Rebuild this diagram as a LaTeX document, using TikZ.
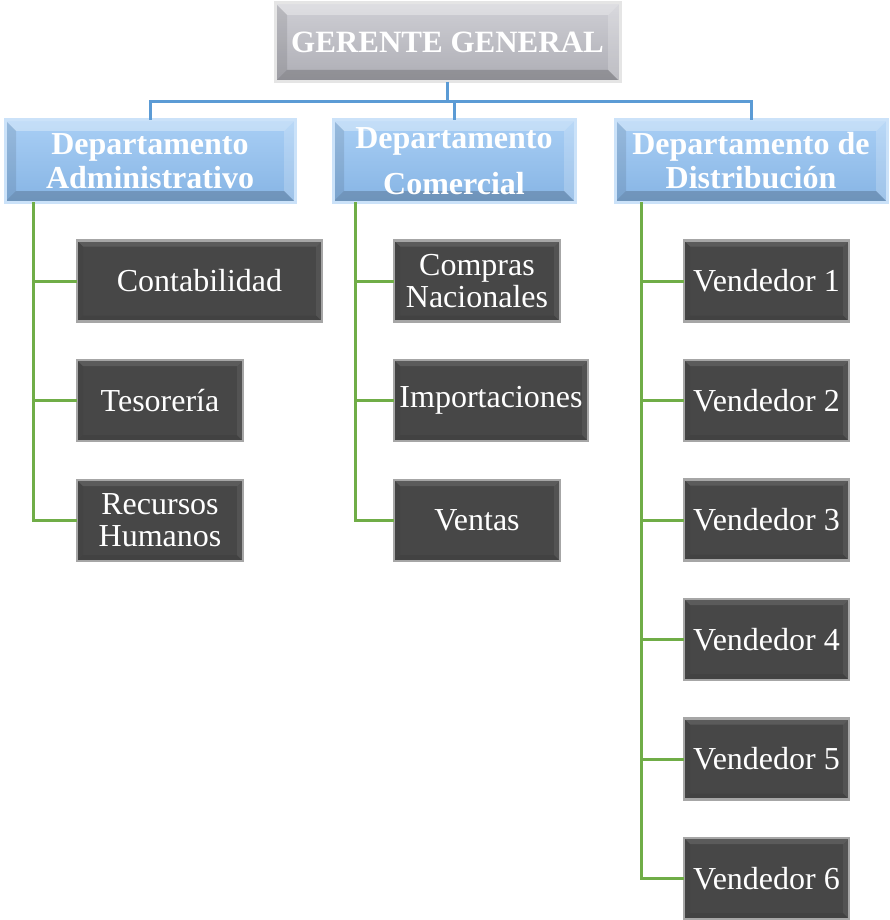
\documentclass[tikz,border=0pt]{standalone}
\usepackage{fontspec}
\setmainfont{Liberation Serif}
\usetikzlibrary{calc,positioning}

\definecolor{azulcon}{HTML}{5B9BD5}
\definecolor{verdecon}{HTML}{70AD47}
\definecolor{grisarriba}{HTML}{CFCFD5}
\definecolor{grisabajo}{HTML}{ADADB4}
\definecolor{azularriba}{HTML}{A9CFF5}
\definecolor{azulabajo}{HTML}{86B4E4}
\definecolor{oscuro}{HTML}{474747}

\tikzset{
  bisel/.style 2 args={path picture={
      \path (path picture bounding box.north west) coordinate (nw)
            (path picture bounding box.south east) coordinate (se);
      \coordinate (ne) at (nw -| se);
      \coordinate (sw) at (nw |- se);
      \coordinate (inw) at ($(nw)+(#1,#1)$);
      \coordinate (ise) at ($(se)+(-#1,-#1)$);
      \coordinate (ine) at (inw -| ise);
      \coordinate (isw) at (inw |- ise);
      \fill[white,opacity=#2*1.6] (nw) -- (ne) -- (ine) -- (inw) -- cycle;
      \fill[white,opacity=#2] (ne) -- (se) -- (ise) -- (ine) -- cycle;
      \fill[black,opacity=#2*.9] (sw) -- (se) -- (ise) -- (isw) -- cycle;
      \fill[black,opacity=#2*.5] (nw) -- (sw) -- (isw) -- (inw) -- cycle;
  }},
  caja/.style={inner sep=0pt, outer sep=0pt, align=center, text=white},
  gerente/.style={caja, top color=grisarriba, bottom color=grisabajo,
      draw=gray!20, line width=3pt, bisel={12}{.2}, minimum width=345, minimum height=79,
      font=\fontsize{31}{33}\selectfont\bfseries},
  depto/.style={caja, top color=azularriba, bottom color=azulabajo,
      draw=azularriba!60!white, line width=3pt, bisel={11}{.2}, minimum height=82,
      font=\fontsize{32}{34}\selectfont\bfseries},
  puesto/.style={caja, fill=oscuro, draw=gray!70, line width=2.5pt, bisel={6}{.07},
      minimum height=81, font=\fontsize{32}{32}\selectfont},
  azul/.style={draw=azulcon, line width=3pt},
  verde/.style={draw=verdecon, line width=3pt}
}

\begin{document}
\begin{tikzpicture}[x=1pt, y=-1pt]
  \useasboundingbox (0,0) rectangle (889,920);

  % cabeza
  \node[gerente] (gg) at (447.5,42.5) {GERENTE GENERAL};

  % departamentos
  \node[depto, minimum width=290] (adm) at (150,161) {Departamento\\Administrativo};
  \node[depto, minimum width=242] (com) at (454,161) {Departamento\\[12pt]Comercial};
  \node[depto, minimum width=272] (dis) at (751,161) {Departamento de\\Distribución};

  % puestos
  \node[puesto, minimum width=245] (cont) at (199.5,281) {Contabilidad};
  \node[puesto, minimum width=166] (tes) at (160,400.5) {Tesorería};
  \node[puesto, minimum width=166] (rh) at (160,520.5) {Recursos\\Humanos};

  \node[puesto, minimum width=166] (cn) at (477,281) {Compras\\Nacionales};
  \node[puesto, minimum width=194] (imp) at (491,400.5) {Importaciones};
  \node[puesto, minimum width=166] (ven) at (477,520.5) {Ventas};

  \foreach \i in {1,...,6}
    \node[puesto, minimum width=165] (v\i) at (766.5,{281+(\i-1)*119.5}) {Vendedor \i};

  % conectores azules
  \draw[azul] (gg.south) -- ++(0,20) coordinate (bus);
  \draw[azul] (adm.north) -- (adm.north |- bus) -| (dis.north);
  \draw[azul] (com.north) -- (com.north |- bus);

  % conectores verdes
  \coordinate (sa) at ($(adm.south west)+(28,0)$);
  \draw[verde] (sa) |- (rh.west);
  \foreach \n in {cont,tes}
    \draw[verde] (\n.west) -- (\n.west -| sa);

  \coordinate (sc) at ($(com.south west)+(22,0)$);
  \draw[verde] (sc) |- (ven.west);
  \foreach \n in {cn,imp}
    \draw[verde] (\n.west) -- (\n.west -| sc);

  \coordinate (sd) at ($(dis.south west)+(26,0)$);
  \draw[verde] (sd) |- (v6.west);
  \foreach \i in {1,...,5}
    \draw[verde] (v\i.west) -- (v\i.west -| sd);
\end{tikzpicture}
\end{document}
